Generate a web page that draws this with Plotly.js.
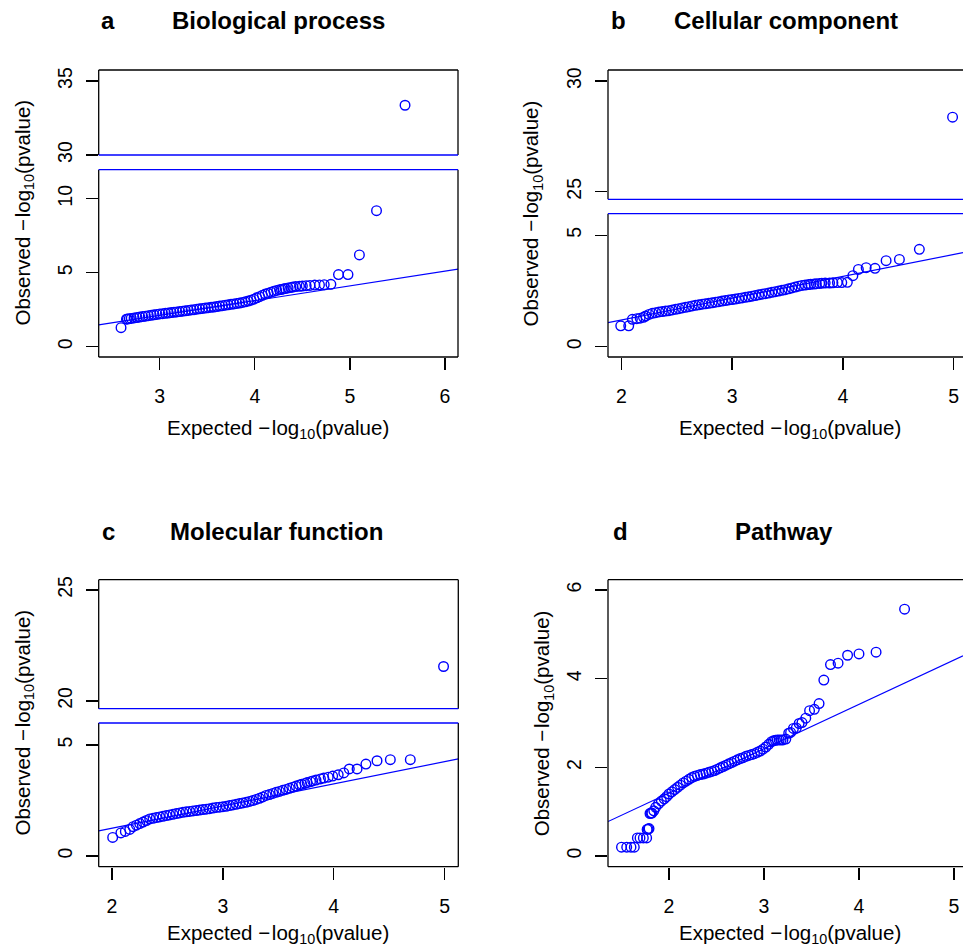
<!DOCTYPE html>
<html><head><meta charset="utf-8">
<script src="https://cdn.plot.ly/plotly-3.0.1.min.js"></script>
<style>html,body{margin:0;padding:0;background:#fff}#chart{width:963px;height:948px}</style>
</head><body><div id="chart"></div>
<script>
// ---------------- DATA ----------------
const panelLetters = ['a', 'b', 'c', 'd'];
const panelTitles = ['Biological process', 'Cellular component', 'Molecular function', 'Pathway'];

// a: Biological process (expected, observed -log10 p)
const bpX = [5.58,5.28,5.10,4.98,4.88,4.80,4.73,4.68,4.63,4.58,4.54,4.50,4.47,4.43,4.40,4.38,4.35,4.32,4.30,4.28,
  4.26,4.23,4.20,4.17,4.14,4.11,4.08,4.05,4.02,3.99,3.96,3.93,3.90,3.87,3.84,3.81,3.78,3.75,3.72,3.69,
  3.66,3.63,3.60,3.57,3.54,3.51,3.48,3.45,3.42,3.39,3.36,3.33,3.30,3.27,3.24,3.21,3.18,3.15,3.12,3.09,
  3.06,3.03,3.00,2.97,2.94,2.91,2.88,2.85,2.82,2.79,2.76,2.73,2.70,2.68,2.66,2.65,2.593];
const bpY = [33.36,9.19,6.20,4.87,4.87,4.21,4.19,4.17,4.16,4.14,4.12,4.10,4.08,4.06,4.03,4.00,3.97,3.93,3.90,3.87,
  3.85,3.80,3.74,3.68,3.61,3.55,3.47,3.38,3.30,3.21,3.14,3.08,3.03,2.99,2.95,2.92,2.89,2.86,2.83,2.80,
  2.77,2.74,2.71,2.68,2.66,2.63,2.61,2.58,2.56,2.53,2.50,2.48,2.45,2.42,2.40,2.37,2.35,2.32,2.30,2.27,
  2.25,2.23,2.21,2.18,2.15,2.12,2.09,2.06,2.03,2.00,1.97,1.94,1.91,1.89,1.87,1.86,1.28];

// b: Cellular component
const ccX = [4.99,4.69,4.51,4.39,4.29,4.21,4.14,4.09,4.04,3.99,3.95,3.91,3.88,3.84,3.81,3.79,3.76,3.74,3.71,3.69,
  3.66,3.63,3.60,3.57,3.54,3.51,3.48,3.45,3.42,3.39,3.36,3.33,3.30,3.27,3.24,3.21,3.18,3.15,3.12,3.09,
  3.06,3.03,3.00,2.97,2.94,2.91,2.88,2.85,2.82,2.79,2.76,2.73,2.70,2.67,2.64,2.61,2.58,2.55,2.52,2.49,
  2.46,2.43,2.40,2.37,2.34,2.31,2.28,2.25,2.22,2.20,2.17,2.14,2.10,2.067,1.995];
const ccY = [28.37,4.37,3.92,3.86,3.52,3.55,3.47,3.19,2.89,2.88,2.88,2.87,2.86,2.86,2.85,2.84,2.83,2.81,2.80,2.79,
  2.77,2.75,2.72,2.68,2.64,2.60,2.56,2.53,2.50,2.47,2.44,2.41,2.38,2.36,2.33,2.30,2.27,2.24,2.22,2.19,
  2.17,2.14,2.12,2.10,2.07,2.05,2.02,2.00,1.97,1.95,1.93,1.91,1.88,1.86,1.83,1.80,1.77,1.74,1.71,1.68,
  1.65,1.62,1.60,1.58,1.56,1.53,1.50,1.45,1.38,1.32,1.28,1.26,1.23,0.94,0.94];

// c: Molecular function
const mfX = [4.99,4.69,4.51,4.39,4.29,4.21,4.14,4.09,4.04,3.99,3.95,3.91,3.88,3.84,3.81,3.79,3.76,3.74,3.71,3.69,
  3.66,3.63,3.60,3.57,3.54,3.51,3.48,3.45,3.42,3.39,3.36,3.33,3.30,3.27,3.24,3.21,3.18,3.15,3.12,3.09,
  3.06,3.03,3.00,2.97,2.94,2.91,2.88,2.85,2.82,2.79,2.76,2.73,2.70,2.67,2.64,2.61,2.58,2.55,2.52,2.49,
  2.46,2.43,2.40,2.37,2.34,2.31,2.28,2.25,2.22,2.19,2.16,2.12,2.08,2.006];
const mfY = [21.55,4.34,4.34,4.29,4.14,3.92,3.92,3.74,3.66,3.60,3.55,3.51,3.47,3.42,3.38,3.35,3.31,3.27,3.23,3.20,
  3.15,3.10,3.05,3.00,2.96,2.91,2.87,2.82,2.77,2.73,2.66,2.60,2.55,2.50,2.46,2.42,2.39,2.36,2.33,2.30,
  2.27,2.24,2.22,2.20,2.19,2.16,2.13,2.11,2.09,2.07,2.05,2.03,2.01,1.99,1.97,1.94,1.91,1.88,1.85,1.82,
  1.79,1.76,1.73,1.70,1.67,1.60,1.53,1.46,1.39,1.32,1.20,1.11,1.04,0.84];

// d: Pathway
const pwX = [4.48,4.18,4.00,3.88,3.78,3.70,3.63,3.58,3.53,3.48,3.44,3.40,3.37,3.34,3.31,3.28,3.26,3.23,3.20,3.18,
  3.16,3.14,3.12,3.10,3.08,3.05,3.02,2.99,2.96,2.93,2.90,2.87,2.84,2.81,2.78,2.75,2.72,2.69,2.66,2.63,
  2.60,2.57,2.54,2.51,2.48,2.45,2.42,2.39,2.36,2.33,2.30,2.27,2.24,2.21,2.18,2.15,2.12,2.09,2.06,2.03,
  2.00,1.975,1.95,1.92,1.89,1.86,1.84,1.82,1.81,1.80,1.79,1.78,1.77,1.765,1.73,1.695,1.667,1.635,1.60,1.555,1.50];
const pwY = [5.57,4.60,4.56,4.53,4.35,4.32,3.97,3.44,3.31,3.28,3.11,3.01,2.99,2.89,2.88,2.79,2.77,2.64,2.62,2.62,
  2.62,2.62,2.61,2.60,2.58,2.52,2.46,2.41,2.37,2.34,2.31,2.29,2.27,2.25,2.22,2.20,2.17,2.14,2.11,2.08,
  2.05,2.02,1.99,1.96,1.93,1.91,1.89,1.87,1.85,1.84,1.82,1.80,1.77,1.73,1.69,1.65,1.60,1.55,1.50,1.45,
  1.40,1.34,1.29,1.24,1.18,1.10,1.02,0.97,0.97,0.96,0.62,0.61,0.60,0.41,0.41,0.41,0.41,0.20,0.20,0.20,0.20];

// reference lines (intercept, slope)
const refIntercept = [-0.89, -0.76, -0.75, -0.58];
const refSlope = [1.0, 0.98, 1.0, 1.0];

const xTickVals = [[3,4,5,6],[2,3,4,5],[2,3,4,5],[2,3,4,5]];
const yTickLow = [[0,5,10],[0,5],[0,5],[0,2,4,6]];
const yTickUp = [[30,35],[25,30],[20,25],null];

// --------------- LAYOUT GEOMETRY (pixels) ---------------
const W = 963, H = 948;
const geo = [
  {x0:98.7, x1:458,   yb:357,   lowTop:169.7, upBot:155,   top:70,    xr:[2.358,6.137], yLow:[-0.70,11.96], yUp:[30,35.74],   cut:20,
   letterX:108, titleX:278, titleY:20.5, xTitleX:278.3, xTitleY:429, yTitleX:23.5, yTitleY:213, rightEdge:true},
  {x0:608,  x1:963,   yb:357,   lowTop:213.7, upBot:199.3, top:70,    xr:[1.88,5.084],  yLow:[-0.46,5.97],  yUp:[24.66,30.5], cut:15,
   letterX:618.3, titleX:785.8, titleY:20.5, xTitleX:790, xTitleY:429, yTitleX:532.4, yTitleY:213, rightEdge:false},
  {x0:98.7, x1:458.3, yb:866.7, lowTop:723,   upBot:708.7, top:579.7, xr:[1.88,5.123],  yLow:[-0.48,5.99],  yUp:[19.65,25.46], cut:15,
   letterX:108, titleX:276.7, titleY:531.3, xTitleX:278.3, xTitleY:934, yTitleX:23.5, yTitleY:723, rightEdge:true},
  {x0:608,  x1:963,   yb:866.7, lowTop:null,  upBot:null,  top:579.7, xr:[1.358,5.095], yLow:[-0.24,6.234], yUp:null, cut:null,
   letterX:620, titleX:784.3, titleY:531.3, xTitleX:790, xTitleY:934, yTitleX:543.3, yTitleY:723, rightEdge:false}
];
const seriesX = [bpX, ccX, mfX, pwX];
const seriesY = [bpY, ccY, mfY, pwY];

const BLUE = '#0000FF';
const FONT = '"Liberation Sans", Arial, Helvetica, sans-serif';
const TICK_SIZE = 19.5, LAB_SIZE = 20.5, TITLE_SIZE = 24;
const fx = px => px / W;
const fy = py => 1 - py / H;

const traces = [];
const layout = {
  width: W, height: H, margin: {l:0, r:0, t:0, b:0},
  paper_bgcolor: '#fff', plot_bgcolor: 'rgba(0,0,0,0)',
  showlegend: false, font: {family: FONT, color: '#000', size: TICK_SIZE},
  shapes: [], annotations: []
};

function axisCommon() {
  return {showgrid:false, zeroline:false, showline:false, ticks:'outside', ticklen:12, tickwidth:1.3,
          tickcolor:'#000', tickfont:{family:FONT, size:TICK_SIZE, color:'#000'}, fixedrange:true};
}

function hline(x0, x1, y, color) {
  layout.shapes.push({type:'line', xref:'paper', yref:'paper', x0:fx(x0), x1:fx(x1), y0:fy(y), y1:fy(y),
    line:{color:color, width:1.3}, layer:'above'});
}
function vline(x, y0, y1) {
  layout.shapes.push({type:'line', xref:'paper', yref:'paper', x0:fx(x), x1:fx(x), y0:fy(y0), y1:fy(y1),
    line:{color:'#000', width:1.3}, layer:'above'});
}

geo.forEach((g, k) => {
  const xs = seriesX[k], ys = seriesY[k];
  const xName = k === 0 ? 'x' : 'x' + (k + 1);
  const yLowName = k === 0 ? 'y' : 'y' + (2 * k + 1);
  const yUpName = 'y' + (2 * k + 2);
  const xKey = k === 0 ? 'xaxis' : 'xaxis' + (k + 1);
  const yLowKey = k === 0 ? 'yaxis' : 'yaxis' + (2 * k + 1);
  const yUpKey = 'yaxis' + (2 * k + 2);
  const hasGap = g.yUp !== null;

  const lowTopPx = hasGap ? g.lowTop : g.top;
  layout[xKey] = Object.assign(axisCommon(), {
    domain:[fx(g.x0), fx(Math.min(g.x1, W))], range:g.xr, anchor:yLowName,
    tickvals:xTickVals[k], ticktext:xTickVals[k].map(String), ticklabelstandoff:10
  });
  layout[yLowKey] = Object.assign(axisCommon(), {
    domain:[fy(g.yb), fy(lowTopPx)], range:g.yLow, anchor:xName,
    tickvals:yTickLow[k], ticktext:yTickLow[k].map(String), tickangle:-90, ticklabelstandoff:6
  });

  const lx = [], ly = [], ux = [], uy = [];
  xs.forEach((v, i) => {
    if (hasGap && ys[i] > g.cut) { ux.push(v); uy.push(ys[i]); }
    else { lx.push(v); ly.push(ys[i]); }
  });
  const mk = {symbol:'circle-open', size:9.6, color:BLUE, line:{color:BLUE, width:1.4}};
  traces.push({type:'scatter', mode:'markers', x:lx, y:ly, xaxis:xName, yaxis:yLowName, marker:mk, hoverinfo:'skip'});
  // reference line across the x range
  const lxr = [g.xr[0], g.xr[1]];
  traces.push({type:'scatter', mode:'lines', x:lxr, y:lxr.map(v => refIntercept[k] + refSlope[k] * v),
    xaxis:xName, yaxis:yLowName, line:{color:BLUE, width:1.2}, hoverinfo:'skip'});

  if (hasGap) {
    layout[yUpKey] = Object.assign(axisCommon(), {
      domain:[fy(g.upBot), fy(g.top)], range:g.yUp, anchor:xName,
      tickvals:yTickUp[k], ticktext:yTickUp[k].map(String), tickangle:-90, ticklabelstandoff:6
    });
    traces.push({type:'scatter', mode:'markers', x:ux, y:uy, xaxis:xName, yaxis:yUpName, marker:mk, hoverinfo:'skip'});
  }

  // frame
  const rightX = g.rightEdge ? g.x1 : W + 20;
  hline(g.x0, rightX, g.top, '#000');
  hline(g.x0, rightX, g.yb, '#000');
  if (hasGap) {
    vline(g.x0, g.top, g.upBot); vline(g.x0, g.lowTop, g.yb);
    if (g.rightEdge) { vline(g.x1, g.top, g.upBot); vline(g.x1, g.lowTop, g.yb); }
    hline(g.x0, rightX, g.upBot, BLUE);
    hline(g.x0, rightX, g.lowTop, BLUE);
  } else {
    vline(g.x0, g.top, g.yb);
    if (g.rightEdge) vline(g.x1, g.top, g.yb);
  }

  // texts
  const ann = (x, y, text, opts) => layout.annotations.push(Object.assign({
    xref:'paper', yref:'paper', x:fx(x), y:fy(y), text:text, showarrow:false,
    xanchor:'center', yanchor:'middle', font:{family:FONT, size:LAB_SIZE, color:'#000'}
  }, opts || {}));
  ann(g.letterX, g.titleY, '<b>' + panelLetters[k] + '</b>', {font:{family:FONT, size:TITLE_SIZE, color:'#000'}});
  ann(g.titleX, g.titleY, '<b>' + panelTitles[k] + '</b>', {font:{family:FONT, size:TITLE_SIZE, color:'#000'}});
  ann(g.xTitleX, g.xTitleY, 'Expected \u2212\u200Alog<sub>10</sub>(pvalue)');
  ann(g.yTitleX, g.yTitleY, 'Observed \u2212\u200Alog<sub>10</sub>(pvalue)', {textangle:-90});
});

Plotly.newPlot('chart', traces, layout, {displayModeBar:false, staticPlot:true});
</script>
</body></html>
